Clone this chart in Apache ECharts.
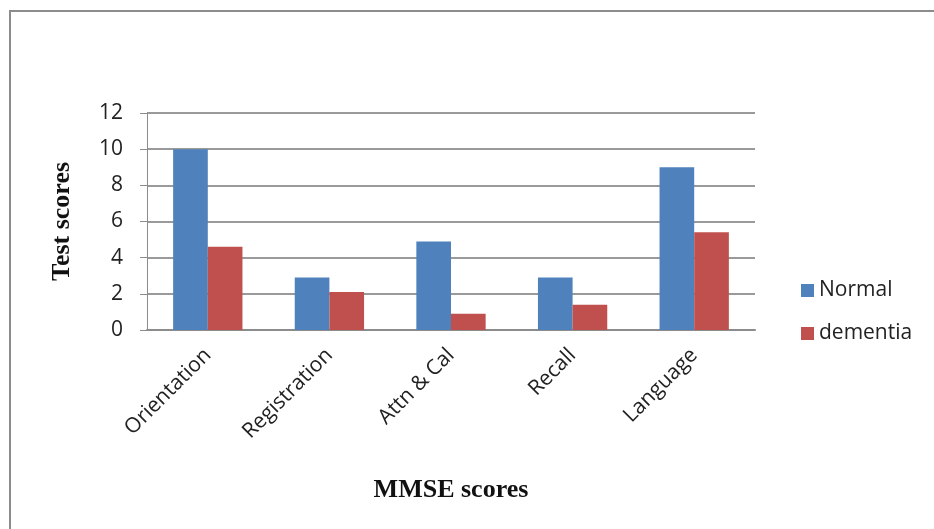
<!DOCTYPE html>
<html>
<head>
<meta charset="utf-8">
<script src="https://cdn.jsdelivr.net/npm/echarts@6/dist/echarts.min.js"></script>
<style>
  html, body { margin: 0; padding: 0; background: #fff; }
  #chart { width: 934px; height: 529px; }
</style>
</head>
<body>
<div id="chart"></div>
<script>
// MMSE sub-scores, normal vs dementia group
const categories = ['Orientation', 'Registration', 'Attn & Cal', 'Recall', 'Language'];
const normalScores = [10, 2.9, 4.9, 2.9, 9.0];
const dementiaScores = [4.6, 2.1, 0.9, 1.4, 5.4];
const yTicks = [0, 2, 4, 6, 8, 10, 12];

const labelFont = '"Open Sans", "Liberation Sans", sans-serif';
const titleFont = '"Liberation Serif", "DejaVu Serif", serif';

const chart = echarts.init(document.getElementById('chart'), null, { renderer: 'canvas' });

chart.setOption({
  backgroundColor: '#ffffff',
  animation: false,
  graphic: [
    // frame around the chart (left and top edges)
    { type: 'line', shape: { x1: 10, y1: 10, x2: 10, y2: 529 }, style: { stroke: '#8c8c8c', lineWidth: 2 } },
    { type: 'line', shape: { x1: 10, y1: 11, x2: 934, y2: 11 }, style: { stroke: '#8c8c8c', lineWidth: 2 } }
  ],
  grid: { left: 147, right: 179, top: 113, bottom: 199 },
  legend: {
    orient: 'vertical',
    left: 796,
    top: 275,
    itemWidth: 13,
    itemHeight: 13,
    itemGap: 22,
    icon: 'rect',
    textStyle: { fontFamily: labelFont, fontSize: 21, color: '#222' },
    data: ['Normal', 'dementia']
  },
  xAxis: {
    type: 'category',
    data: categories,
    name: 'MMSE scores',
    nameLocation: 'middle',
    nameGap: 147,
    nameTextStyle: { fontFamily: titleFont, fontWeight: 'bold', fontSize: 26, color: '#111' },
    axisLine: { lineStyle: { color: '#8c8c8c', width: 2 } },
    axisTick: { show: false },
    axisLabel: {
      rotate: 45,
      interval: 0,
      margin: 22,
      fontFamily: labelFont,
      fontSize: 21,
      color: '#222'
    }
  },
  yAxis: {
    type: 'value',
    min: 0,
    max: 12,
    interval: 2,
    name: 'Test scores',
    nameLocation: 'middle',
    nameGap: 72,
    nameTextStyle: { fontFamily: titleFont, fontWeight: 'bold', fontSize: 26, color: '#111' },
    axisLine: { show: true, lineStyle: { color: '#8c8c8c', width: 1 } },
    axisTick: { show: true, length: 7, lineStyle: { color: '#8c8c8c' } },
    axisLabel: {
      margin: 24,
      fontFamily: labelFont,
      fontSize: 21,
      color: '#222',
      formatter: function (v) { return yTicks.indexOf(v) >= 0 ? String(v) : ''; }
    },
    splitLine: { show: true, lineStyle: { color: '#9a9a9a', width: 2 } }
  },
  series: [
    {
      name: 'Normal',
      type: 'bar',
      data: normalScores,
      barGap: '0%',
      barCategoryGap: '43%',
      itemStyle: { color: '#4f81bd' }
    },
    {
      name: 'dementia',
      type: 'bar',
      data: dementiaScores,
      itemStyle: { color: '#c0504d' }
    }
  ]
});
</script>
</body>
</html>
